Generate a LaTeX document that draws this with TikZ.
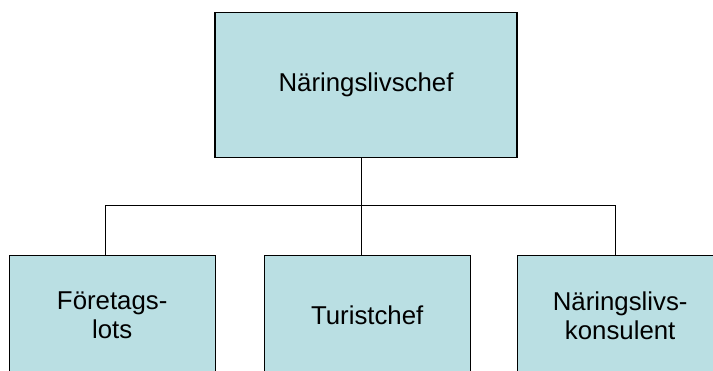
\documentclass[tikz,border=0pt]{standalone}
\usepackage{fontspec}
\setmainfont{Liberation Sans}
\definecolor{boxfill}{RGB}{186,223,227}
\begin{document}
\begin{tikzpicture}[x=1pt,y=1pt,
  orgbox/.style={draw=black, line width=1.2pt, fill=boxfill, rectangle, inner sep=0pt,
    minimum width=206pt, align=center, font=\fontsize{25.8}{29}\selectfont},
  link/.style={draw=black, line width=1pt}]
\useasboundingbox (0,0) rectangle (713,370);
\clip (0,0) rectangle (713,370);
\node[orgbox, minimum width=302pt, minimum height=145pt] (top) at (366,285.3) {Näringslivschef};
\node[orgbox, minimum height=120pt] (l) at (112.2,54.3) {Företags-\\lots};
\node[orgbox, minimum height=120pt] (m) at (367.2,54.3) {Turistchef};
\node[orgbox, minimum height=120pt] (r) at (620.2,54.3) {Näringslivs-\\konsulent};
\coordinate (bus) at (361,164.3);
\draw[link] (bus |- top.south) -- (bus);
\draw[link] ([xshift=-6.5pt]l.north) |- (bus) -| ([xshift=-4.5pt]r.north);
\draw[link] (bus) -- (bus |- m.north);
\end{tikzpicture}
\end{document}
